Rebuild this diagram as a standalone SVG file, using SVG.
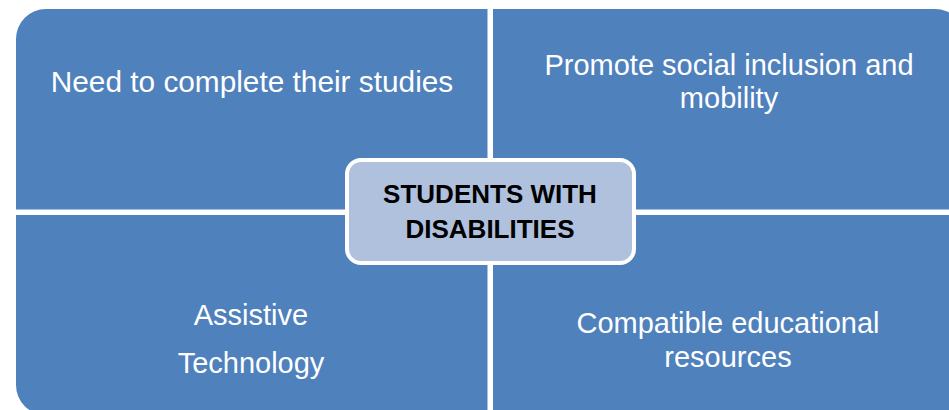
<svg xmlns="http://www.w3.org/2000/svg" width="949" height="410" viewBox="0 0 949 410">
  <style>
    .quad { fill: #4f81bd; }
    .label { font-family: "Liberation Sans", Arial, sans-serif; font-size: 29px; fill: #ffffff; text-anchor: middle; }
    .wide { font-size: 29.8px; }
    .core { fill: #b0c1dd; stroke: #ffffff; stroke-width: 4; }
    .core-label { font-family: "Liberation Sans", Arial, sans-serif; font-size: 26px; font-weight: bold; fill: #000000; text-anchor: middle; }
  </style>
  <rect width="949" height="410" fill="#ffffff"/>

  <!-- four quadrants, each rounded on its outer corner -->
  <g id="need-to-complete">
    <path class="quad" d="M16,39 A30,30 0 0 1 46,9 H487.5 V209.5 H16 Z"/>
    <text class="label wide" x="252" y="92">Need to complete their studies</text>
  </g>
  <g id="social-inclusion">
    <path class="quad" d="M493,9 H935 A30,30 0 0 1 965,39 V209.5 H493 Z"/>
    <text class="label" x="729" y="75">Promote social inclusion and</text>
    <text class="label" x="729" y="108">mobility</text>
  </g>
  <g id="assistive-technology">
    <path class="quad" d="M16,215 H487.5 V415 H46 A30,30 0 0 1 16,385 Z"/>
    <text class="label" x="251" y="325">Assistive</text>
    <text class="label" x="251" y="373">Technology</text>
  </g>
  <g id="educational-resources">
    <path class="quad" d="M493,215 H965 V385 A30,30 0 0 1 935,415 H493 Z"/>
    <text class="label" x="728" y="333">Compatible educational</text>
    <text class="label" x="728" y="367">resources</text>
  </g>

  <!-- central topic box -->
  <g id="students-with-disabilities">
    <rect class="core" x="347" y="160" width="287" height="103" rx="14" ry="14"/>
    <text class="core-label" x="490" y="203">STUDENTS WITH</text>
    <text class="core-label" x="490" y="238">DISABILITIES</text>
  </g>
</svg>
